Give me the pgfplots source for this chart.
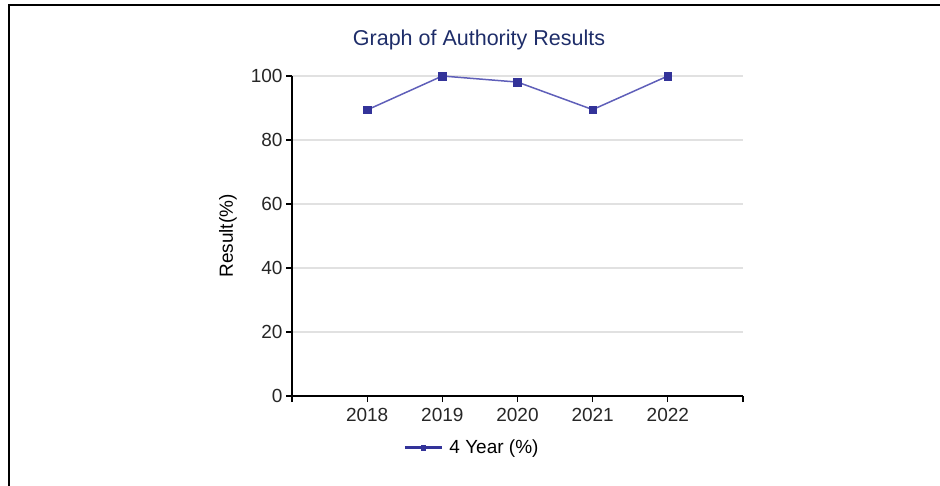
\documentclass[border=0pt]{standalone}
\usepackage{pgfplots}
\pgfplotsset{compat=1.18}
\usepackage{fontspec}
\setmainfont{Liberation Sans}
\definecolor{titleblue}{RGB}{30,45,105}
\definecolor{serline}{RGB}{95,95,185}
\definecolor{sermark}{RGB}{51,51,153}
\definecolor{gridgray}{RGB}{225,225,225}
\begin{document}
\begin{tikzpicture}
\useasboundingbox (0,0) rectangle (940pt,-486pt);
\draw[line width=2.5pt] (9pt,-486pt) -- (9pt,-5pt) -- (940pt,-5pt);
\node[font=\fontsize{21.5}{24}\selectfont, text=titleblue] at (479pt,-40pt) {Graph of Authority Results};
\begin{axis}[
    at={(292pt,-396pt)}, anchor=south west,
    scale only axis,
    width=451pt, height=320pt,
    xmin=2017, xmax=2023,
    ymin=0, ymax=100,
    xtick={2017,2018,2019,2020,2021,2022,2023},
    xticklabels={{},2018,2019,2020,2021,2022,{}},
    ytick={0,20,40,60,80,100},
    axis lines=left,
    axis line style={-, line width=1.5pt, black},
    tick style={line width=1.3pt, black},
    tick align=outside,
    major tick length=6pt,
    ymajorgrids,
    major grid style={gridgray, line width=1.5pt},
    ticklabel style={font=\fontsize{19}{21}\selectfont, text=black!85},
    xticklabel style={yshift=-3pt},
    /pgf/number format/assume math mode=true,
    ylabel={Result(\%)},
    ylabel style={font=\fontsize{19}{21}\selectfont, at={(axis description cs:-0.142,0.5)}, anchor=center, rotate=0},
    legend style={at={(axis description cs:0.24,-0.162)}, anchor=west, draw=none, fill=none,
        font=\fontsize{19}{21}\selectfont, nodes={inner xsep=6pt}},
    legend image code/.code={
        \draw[sermark, line width=3pt] (0pt,0pt) -- (37pt,0pt);
        \fill[sermark] (16.5pt,-2pt) rectangle (20.5pt,2pt);
    },
]
\addplot[serline, line width=1.5pt, mark=square*, mark size=3.8pt,
    mark options={fill=sermark, draw=sermark, line width=0.5pt}]
    coordinates {
        (2018, 89.4)
        (2019, 100)
        (2020, 98.1)
        (2021, 89.5)
        (2022, 100)
    };
\addlegendentry{4 Year (\%)}
\end{axis}
\end{tikzpicture}
\end{document}
